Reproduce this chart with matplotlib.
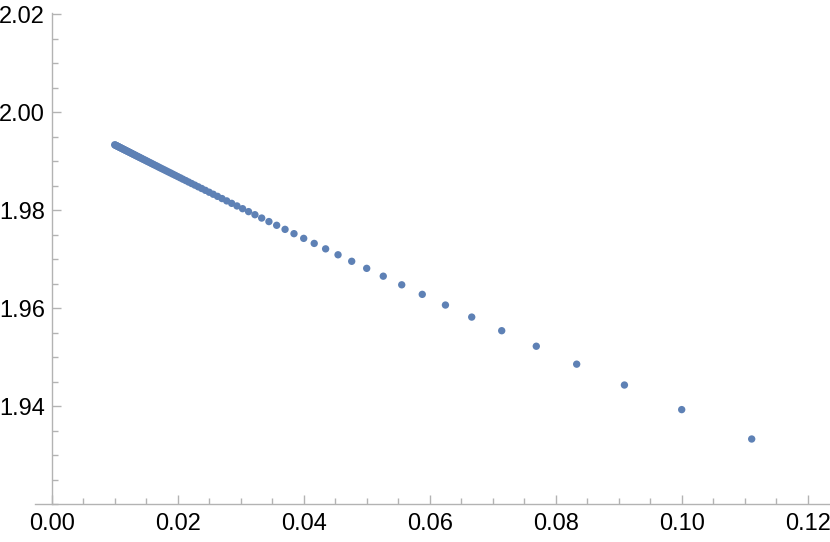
import matplotlib
matplotlib.use("Agg")
import matplotlib.pyplot as plt
from matplotlib.ticker import MultipleLocator, FormatStrFormatter

plt.rcParams["font.family"] = ["Liberation Sans", "DejaVu Sans"]

# x = step size, y = estimate
x_vals = [0.11111, 0.1, 0.09091, 0.08333, 0.07692, 0.07143, 0.06667, 0.0625,
          0.05882, 0.05556, 0.05263, 0.05, 0.04762, 0.04545, 0.04348, 0.04167,
          0.04, 0.03846, 0.03704, 0.03571, 0.03448, 0.03333, 0.03226, 0.03125,
          0.0303, 0.02941, 0.02857, 0.02778, 0.02703, 0.02632, 0.02564, 0.025,
          0.02439, 0.02381, 0.02326, 0.02273, 0.02222, 0.02174, 0.02128, 0.02083,
          0.02041, 0.02, 0.01961, 0.01923, 0.01887, 0.01852, 0.01818, 0.01786,
          0.01754, 0.01724, 0.01695, 0.01667, 0.01639, 0.01613, 0.01587, 0.01563,
          0.01538, 0.01515, 0.01493, 0.01471, 0.01449, 0.01429, 0.01408, 0.01389,
          0.0137, 0.01351, 0.01333, 0.01316, 0.01299, 0.01282, 0.01266, 0.0125,
          0.01235, 0.0122, 0.01205, 0.0119, 0.01176, 0.01163, 0.01149, 0.01136,
          0.01124, 0.01111, 0.01099, 0.01087, 0.01075, 0.01064, 0.01053, 0.01042,
          0.01031, 0.0102, 0.0101, 0.01]
y_vals = [1.93333, 1.93933, 1.94435, 1.94861, 1.95227, 1.95544, 1.95822, 1.96068,
          1.96286, 1.96481, 1.96657, 1.96817, 1.96961, 1.97094, 1.97215, 1.97326,
          1.97429, 1.97525, 1.97613, 1.97696, 1.97772, 1.97844, 1.97912, 1.97975,
          1.98035, 1.98091, 1.98144, 1.98194, 1.98242, 1.98287, 1.98330, 1.98371,
          1.98410, 1.98447, 1.98482, 1.98516, 1.98548, 1.98579, 1.98609, 1.98637,
          1.98665, 1.98691, 1.98716, 1.98740, 1.98764, 1.98786, 1.98808, 1.98829,
          1.98849, 1.98868, 1.98887, 1.98906, 1.98923, 1.98940, 1.98957, 1.98973,
          1.98989, 1.99004, 1.99018, 1.99033, 1.99046, 1.99060, 1.99073, 1.99086,
          1.99098, 1.99110, 1.99122, 1.99133, 1.99144, 1.99155, 1.99166, 1.99176,
          1.99186, 1.99196, 1.99206, 1.99215, 1.99224, 1.99233, 1.99242, 1.99250,
          1.99258, 1.99267, 1.99275, 1.99282, 1.99290, 1.99298, 1.99305, 1.99312,
          1.99319, 1.99326, 1.99333, 1.99339]
y_ticks = [1.94, 1.96, 1.98, 2.00, 2.02]

axis_gray = "#b3b3b3"

fig = plt.figure(figsize=(8.3, 5.42), dpi=100)
W, H = 830, 542
ax = fig.add_axes([35 / W, (H - 504.3) / H, (W - 35) / W, (504.3 - 13) / H])

ax.scatter(x_vals, y_vals, s=28, color="#5e81b5", edgecolors="none", zorder=3)

ax.set_xlim(-0.00265, 0.12354)
ax.set_ylim(1.92, 2.0203)

# Mathematica-style axes crossing at (0, 1.92)
ax.spines["top"].set_visible(False)
ax.spines["right"].set_visible(False)
ax.spines["left"].set_position(("data", 0))
ax.spines["left"].set_bounds(1.92, 2.0203)
for s in ("left", "bottom"):
    ax.spines[s].set_color(axis_gray)
    ax.spines[s].set_linewidth(1.0)

ax.xaxis.set_major_locator(MultipleLocator(0.02))
ax.xaxis.set_minor_locator(MultipleLocator(0.005))
ax.yaxis.set_minor_locator(MultipleLocator(0.005))
ax.set_yticks(y_ticks)
ax.xaxis.set_major_formatter(FormatStrFormatter("%.2f"))
ax.yaxis.set_major_formatter(FormatStrFormatter("%.2f"))

ax.tick_params(which="both", direction="in", color=axis_gray, width=1.0,
               labelsize=17, labelcolor="black")
ax.tick_params(which="major", length=6.5)
ax.tick_params(which="minor", length=4.2)
ax.tick_params(axis="x", which="major", pad=6.5)
ax.tick_params(axis="y", which="major", pad=5.0)

fig.savefig("out.png", dpi=100)
